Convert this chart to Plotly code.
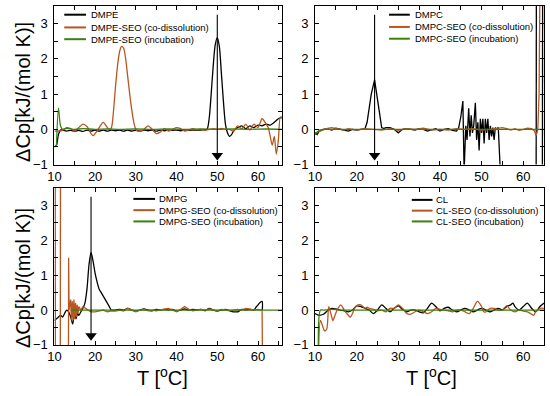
import plotly.graph_objects as go

# ---------------- data ----------------
# Panel (a) DMPE
DMPE_T = [10, 10.5, 11, 11.5, 12, 13, 14, 15, 16, 17, 18, 19, 20, 21, 22, 23, 24, 25, 26, 27, 28, 29, 30,
          31, 32, 33, 34, 35, 36, 37, 38, 39, 40, 41, 42, 43, 44, 45, 46, 47, 47.5, 48, 48.5, 49, 49.5, 50,
          50.5, 51, 51.5, 52, 52.5, 53, 53.5, 54, 55, 56, 57, 58, 59, 60, 61, 62, 63, 64, 65, 66]
DMPE_CP = [-0.5, -0.45, -0.15, -0.02, -0.02, -0.05, -0.03, -0.05, -0.03, -0.06, -0.02, -0.05, -0.02, -0.05,
           -0.02, -0.05, -0.02, -0.04, -0.02, -0.05, -0.02, -0.05, -0.03, -0.05, -0.02, -0.04, -0.02, -0.05,
           -0.02, -0.04, -0.02, -0.03, -0.02, -0.04, -0.02, -0.03, -0.02, -0.03, -0.02, -0.01, 0.0, 0.3, 1.0,
           1.8, 2.4, 2.6, 2.35, 1.6, 0.8, 0.15, -0.1, -0.2, -0.15, -0.05, 0.05, 0.1, 0.02, 0.1, 0.05, 0.12,
           0.1, 0.15, 0.12, 0.2, 0.3, 0.35]
DMPE_CO_T = [10, 11, 12, 13, 14, 15, 16, 17, 18, 19, 19.5, 20, 21, 22, 23, 23.5, 24, 24.5, 25, 25.5, 26, 26.5,
             27, 27.5, 28, 28.5, 29, 29.5, 30, 30.5, 31, 32, 33, 34, 35, 36, 37, 38, 39, 40, 41, 42, 43, 44,
             45, 46, 47, 48, 49, 50, 51, 52, 53, 54, 55, 56, 57, 58, 59, 60, 61, 62, 62.5, 63, 63.5, 64, 64.5,
             65, 65.5, 66]
DMPE_CO_CP = [-0.05, -0.05, -0.03, 0.05, 0.02, -0.05, 0.05, 0.15, 0.08, -0.12, -0.18, -0.12, 0.05, 0.2, 0.05,
              0.0, 0.05, 0.5, 1.2, 1.8, 2.2, 2.35, 2.3, 2.0, 1.5, 1.0, 0.55, 0.2, 0.0, -0.05, -0.05, 0.0, 0.1,
              0.0, -0.12, -0.08, 0.02, -0.05, 0.0, 0.05, 0.02, -0.05, -0.02, 0.02, -0.02, 0.0, -0.03, 0.0,
              0.02, 0.0, 0.03, 0.0, 0.0, -0.05, 0.1, 0.02, 0.15, -0.02, 0.15, 0.05, 0.3, 0.15, 0.05, -0.2,
              -0.45, -0.2, -0.7, -0.3, 0.35, 0.3]
DMPE_INC_T = [10.5, 11, 11.5, 12, 13, 15, 17, 20, 23, 26, 30, 34, 38, 42, 46, 50, 54, 58, 62, 66]
DMPE_INC_CP = [-0.5, 0.6, 0.1, 0.0, 0.03, 0.0, 0.02, 0.0, 0.01, 0.0, 0.01, 0.0, 0.01, 0.0, 0.01, 0.0, 0.01,
               0.0, 0.01, 0.0]

# Panel (b) DMPC
DMPC_T = [10, 10.5, 11, 12, 13, 14, 15, 16, 17, 18, 19, 20, 21, 22, 22.5, 23, 23.5, 24.3, 25, 25.5, 26, 26.5,
          27, 28, 29, 29.5, 30, 30.5, 31, 32, 33, 34, 35, 36, 37, 38, 39, 40, 41, 42, 43, 44, 44.5, 45, 45.5,
          45.8, 46.2, 46.5, 46.9, 47.2, 47.5, 47.8, 48.1, 48.5, 48.8, 49.1, 49.4, 49.7, 50, 50.3, 50.6, 50.9,
          51.2, 51.5, 51.8, 52.1, 52.4, 52.7, 53, 53.3, 53.6, 54, 54.2, 54.5, None, 63.1, 63.15, None, 64.6,
          64.65]
DMPC_CP = [-0.1, -0.15, -0.05, 0.0, 0.02, -0.02, 0.03, 0.0, -0.02, -0.05, 0.0, -0.02, 0.0, 0.02, 0.2, 0.6,
           1.0, 1.4, 0.9, 0.45, 0.05, 0.02, 0.05, 0.05, 0.0, -0.05, -0.1, -0.05, 0.0, 0.02, 0.0, -0.02, 0.02,
           0.0, -0.05, -0.02, 0.02, -0.05, 0.0, 0.02, -0.03, -0.05, 0.05, 0.35, 0.8, -1.2, 0.1, -0.3, 0.6,
           -0.2, 0.4, -0.1, 0.1, 0.75, -0.3, 0.2, -0.6, 0.3, -0.1, 0.3, -0.4, 0.3, -0.1, 0.3, -0.3, 0.1,
           -0.2, 0.05, -0.3, 0.05, 0.0, 0.05, -0.3, -1.2, None, -1.2, 4.0, None, -1.2, 4.0]
DMPC_CO_T = [10, 11, 12, 13, 14, 15, 16, 17, 18, 19, 20, 22, 24, 26, 28, 30, 32, 34, 36, 38, 40, 42, 44, 46,
             48, 50, 52, 54, 55, 56, 57, 58, 59, 60, 61, 62, 62.7, 63.1, 63.5, 63.8, 64.0]
DMPC_CO_CP = [-0.1, -0.05, 0.0, 0.03, 0.05, 0.03, 0.0, -0.02, 0.02, 0.0, -0.02, 0.02, 0.0, -0.02, 0.02, -0.03,
              0.02, 0.0, 0.03, -0.02, 0.0, -0.02, 0.02, 0.0, 0.02, -0.02, 0.0, 0.03, 0.05, 0.02, -0.02, 0.02,
              -0.03, 0.0, 0.03, 0.02, -0.05, -0.18, 0.0, 1.0, 4.0]
DMPC_INC_T = [10, 10.5, 11, 12, 15, 20, 25, 30, 35, 40, 45, 50, 55, 60, 65]
DMPC_INC_CP = [-0.15, -0.1, -0.03, 0.0, 0.0, 0.0, 0.0, 0.0, 0.0, 0.0, 0.0, 0.0, 0.0, 0.0, 0.0]

# Panel (c) DMPG
DMPG_T = [10, 10.5, 11, 11.5, 12, 12.5, 13, 13.5, 14, 14.5, 15, 15.3, 15.7, 16, 16.5, 17, 17.5, 18, 18.5, 19,
          19.5, 20, 20.5, 21, 21.5, 22, 22.5, 23, 23.5, 24, 25, 26, 27, 28, 29, 30, 31, 32, 33, 34, 35, 36,
          37, 38, 39, 40, 41, 42, 43, 44, 45, 46, 47, 48, 49, 50, 51, 52, 53, 54, 55, 56, 57, 58, 59, 59.5,
          60, 60.5, 61, 61.05]
DMPG_CP = [-0.3, -0.25, -0.2, -0.15, -0.2, -0.1, 0.0, -0.05, -0.2, -0.4, -0.05, -0.25, -0.1, -0.15, -0.05,
           0.05, 0.2, 0.6, 1.3, 1.65, 1.4, 1.05, 0.8, 0.6, 0.5, 0.4, 0.3, 0.2, 0.1, 0.0, 0.0, 0.02, 0.0, 0.05,
           0.0, -0.03, 0.0, 0.03, 0.0, -0.02, 0.02, 0.0, 0.02, 0.0, 0.02, -0.03, 0.0, 0.03, 0.0, 0.02, 0.0,
           0.02, -0.02, 0.05, 0.0, -0.03, 0.0, 0.02, -0.02, -0.05, -0.05, 0.02, 0.0, 0.02, 0.0, 0.08, 0.15,
           0.22, 0.25, 0.0]
DMPG_CO_T = [10.2, 10.25, None, 11.45, 11.5, None, 13.45, 13.5, 13.6, 14, 14.2, 14.4, 14.6, 14.8, 15, 15.2,
             15.4, 15.6, 15.8, 16, 16.5, 17, 17.5, 18, 18.5, 19, 20, 21, 22, 23, 24, 25, 26, 27, 28, 29, 30,
             31, 32, 33, 34, 35, 36, 37, 38, 39, 40, 41, 42, 43, 44, 45, 46, 47, 48, 49, 50, 51, 52, 53, 54,
             55, 56, 57, 58, 59, 60, 61, 61.1]
DMPG_CO_CP = [4.0, -1.5, None, -1.5, 4.0, None, -1.5, 1.5, 0.0, 0.3, -0.3, 0.25, -0.3, 0.3, -0.25, 0.2,
              -0.2, 0.15, -0.1, 0.1, 0.0, 0.1, 0.05, 0.02, -0.02, -0.05, -0.05, -0.02, 0.0, -0.05, -0.02,
              -0.03, 0.0, -0.03, 0.05, 0.0, -0.05, 0.0, 0.02, -0.02, 0.0, -0.02, 0.0, 0.03, 0.05, 0.0, -0.05,
              0.02, 0.1, 0.02, -0.02, 0.0, 0.02, 0.0, 0.03, 0.0, -0.02, 0.02, 0.0, -0.02, 0.0, 0.02, 0.0,
              0.05, 0.03, 0.0, 0.02, 0.0, -1.5]
DMPG_INC_T = [14, 18, 22, 26, 30, 34, 38, 42, 46, 50, 54, 58, 62, 66]
DMPG_INC_CP = [0.0, -0.01, 0.0, 0.0, 0.0, 0.0, 0.0, 0.0, 0.0, 0.0, 0.0, 0.0, 0.0, 0.0]

# Panel (d) CL
CL_T = [10, 11, 12, 13, 14, 15, 16, 17, 18, 19, 20, 21, 22, 23, 24, 25, 26, 27, 28, 29, 30, 31, 32, 33, 34,
        35, 36, 37, 38, 39, 40, 41, 42, 43, 44, 45, 46, 47, 48, 49, 50, 51, 52, 53, 54, 55, 56, 57, 57.5, 58,
        59, 60, 61, 62, 63, 64, 65]
CL_CP = [-0.1, -0.15, -0.12, -0.02, 0.05, 0.03, 0.0, -0.02, -0.05, 0.0, 0.12, 0.1, 0.05, 0.0, -0.1, 0.0,
         0.15, 0.05, -0.05, 0.05, 0.12, 0.02, -0.05, 0.0, 0.0, -0.05, -0.08, 0.05, 0.2, 0.1, -0.02, 0.05,
         0.08, 0.0, -0.05, 0.0, 0.05, 0.0, -0.05, 0.0, 0.05, 0.0, -0.05, 0.0, 0.05, 0.0, 0.1, 0.15, 0.2,
         0.1, 0.0, 0.1, 0.2, 0.05, -0.05, 0.1, 0.2]
CL_CO_T = [10.8, 11.3, 11.8, 12.3, 12.8, 13.3, 13.8, 14.3, 14.8, 15.5, 16.2, 17, 18, 18.5, 19, 19.5, 20.3, 21,
           21.5, 22, 22.5, 23, 24, 25, 26, 27, 28, 29, 30, 31, 32, 33, 34, 35, 36, 37, 38, 39, 40, 41, 42,
           43, 44, 45, 46, 47, 48, 49, 50, 50.5, 51, 52, 53, 54, 55, 56, 57, 58, 59, 60, 61, 62, 62.5, 63,
           64, 65]
CL_CO_CP = [-1.5, -0.3, -0.45, -0.6, -0.55, 0.1, -0.1, -0.3, -0.15, 0.05, 0.15, 0.0, -0.15, -0.2, -0.1,
            0.05, 0.15, 0.15, 0.1, 0.05, 0.08, 0.05, 0.02, -0.02, 0.0, -0.05, 0.05, 0.05, 0.15, 0.05, -0.1,
            -0.12, -0.05, 0.0, -0.05, -0.1, -0.05, 0.05, 0.02, 0.0, -0.02, -0.05, 0.0, 0.0, -0.05, -0.1,
            0.05, 0.25, 0.1, -0.05, -0.05, 0.05, 0.05, 0.0, 0.0, 0.12, 0.0, -0.05, 0.0, -0.03, -0.05, -0.12,
            -0.15, -0.05, 0.05, 0.05]
CL_INC_T = [10.8, 11.3, 12, 14, 16, 20, 25, 30, 35, 40, 45, 50, 55, 60, 65]
CL_INC_CP = [-1.2, 0.0, 0.0, 0.02, 0.0, 0.0, 0.0, 0.0, 0.0, 0.0, 0.0, 0.0, 0.0, 0.0, 0.0]

LIPIDS = ["DMPE", "DMPC", "DMPG", "CL"]
SUFFIXES = ["", "-SEO (co-dissolution)", "-SEO (incubation)"]
ARROW_T = [50, 24.3, 19.0, None]      # transition temperatures marked by arrows
ARROW_TOP, ARROW_HEAD = 3.25, -0.74
X_RANGES = [[10, 66], [10, 65], [10, 66], [10, 65]]
Y_RANGE = [-1, 3.5]

SERIES = [
    [(DMPE_T, DMPE_CP), (DMPE_CO_T, DMPE_CO_CP), (DMPE_INC_T, DMPE_INC_CP)],
    [(DMPC_T, DMPC_CP), (DMPC_CO_T, DMPC_CO_CP), (DMPC_INC_T, DMPC_INC_CP)],
    [(DMPG_T, DMPG_CP), (DMPG_CO_T, DMPG_CO_CP), (DMPG_INC_T, DMPG_INC_CP)],
    [(CL_T, CL_CP), (CL_CO_T, CL_CO_CP), (CL_INC_T, CL_INC_CP)],
]
SHAPES = [["spline", "spline", "spline"], ["linear", "linear", "linear"],
          ["spline", "linear", "linear"], ["spline", "spline", "spline"]]

COLORS = ["#000000", "#B8561F", "#3A800E"]
FONT = "Liberation Sans, Arial, sans-serif"

W, H = 550, 396
def px(x):
    return x / W
def py(y):
    return 1 - y / H

# plot areas in pixels: (left, right, top, bottom)
BOXES = [(48, 279, 6, 168), (312, 544, 6, 168), (48, 279, 192, 352), (312, 544, 192, 352)]
LEG = [  # legend line start, line end, text start, row y positions
    (58, 80, 83, [15, 28, 40]),
    (387, 408, 411, [15, 27.5, 39.5]),
    (128, 150, 152, [203, 214.5, 226]),
    (410, 431, 433, [204, 215, 226]),
]

fig = go.Figure()
layout = dict(width=W, height=H, margin=dict(l=0, r=0, t=0, b=0), showlegend=False,
              paper_bgcolor="white", plot_bgcolor="white", font=dict(family=FONT, size=13, color="black"))
annotations = []
shapes = []

for i in range(4):
    xa = "x" if i == 0 else f"x{i+1}"
    ya = "y" if i == 0 else f"y{i+1}"
    l, r, t, b = BOXES[i]
    for j in range(3):
        T, CP = SERIES[i][j]
        fig.add_trace(go.Scatter(x=T, y=CP, mode="lines", xaxis=xa, yaxis=ya,
                                 name=LIPIDS[i] + SUFFIXES[j], connectgaps=False, cliponaxis=True,
                                 line=dict(color=COLORS[j], width=1.3, shape=SHAPES[i][j], smoothing=0.8)))
    axis_common = dict(showgrid=False, zeroline=False, showline=True, linecolor="black", linewidth=1,
                       mirror="allticks", ticks="inside", ticklen=4, tickwidth=1, tickcolor="black",
                       tickfont=dict(family=FONT, size=13, color="black"))
    layout["xaxis" if i == 0 else f"xaxis{i+1}"] = dict(
        axis_common, domain=[px(l), px(r)], range=X_RANGES[i], dtick=10, tick0=10,
        anchor=ya,
        minor=dict(dtick=5, ticks="inside", ticklen=4, tickcolor="black", showgrid=False))
    layout["yaxis" if i == 0 else f"yaxis{i+1}"] = dict(
        axis_common, domain=[py(b), py(t)], range=Y_RANGE, dtick=1, tick0=0,
        anchor=xa, ticklabelstandoff=3,
        minor=dict(dtick=0.5, ticks="inside", ticklen=4, tickcolor="black", showgrid=False))
    # arrows marking the transition temperature: shaft + filled head
    if ARROW_T[i] is not None:
        shapes.append(dict(type="line", xref=xa, yref=ya, x0=ARROW_T[i], x1=ARROW_T[i],
                           y0=ARROW_TOP, y1=ARROW_HEAD, line=dict(color="black", width=1.1)))
        fig.add_trace(go.Scatter(x=[ARROW_T[i]], y=[ARROW_HEAD], mode="markers", xaxis=xa, yaxis=ya,
                                 showlegend=False, hoverinfo="skip",
                                 marker=dict(symbol="triangle-down", size=10, color="black",
                                             line=dict(width=0))))
    # legend
    x0, x1, xt, rows = LEG[i]
    for j in range(3):
        shapes.append(dict(type="line", xref="paper", yref="paper", x0=px(x0), x1=px(x1),
                           y0=py(rows[j]), y1=py(rows[j]), line=dict(color=COLORS[j], width=2)))
        annotations.append(dict(x=px(xt), y=py(rows[j]), xref="paper", yref="paper", showarrow=False,
                                text=LIPIDS[i] + SUFFIXES[j], xanchor="left", yanchor="middle",
                                font=dict(family=FONT, size=9.5, color="black")))

# axis titles
for yc in (94, 284):
    annotations.append(dict(x=px(16), y=py(yc), xref="paper", yref="paper", showarrow=False,
                            text="ΔCp[kJ/(mol K)]", textangle=-90, xanchor="center", yanchor="middle",
                            font=dict(family=FONT, size=20, color="black")))
for xc in (157, 430):
    annotations.append(dict(x=px(xc), y=py(384), xref="paper", yref="paper", showarrow=False,
                            text="T [<sup>o</sup>C]", xanchor="center", yanchor="middle",
                            font=dict(family=FONT, size=20, color="black")))

layout["annotations"] = annotations
layout["shapes"] = shapes
fig.update_layout(**layout)
# remove the default page margin so the 550x396 figure fills the window exactly
fig.write_html("out.html", config={"displayModeBar": False},
               post_script="document.body.style.margin='0';document.body.style.overflow='hidden';")
